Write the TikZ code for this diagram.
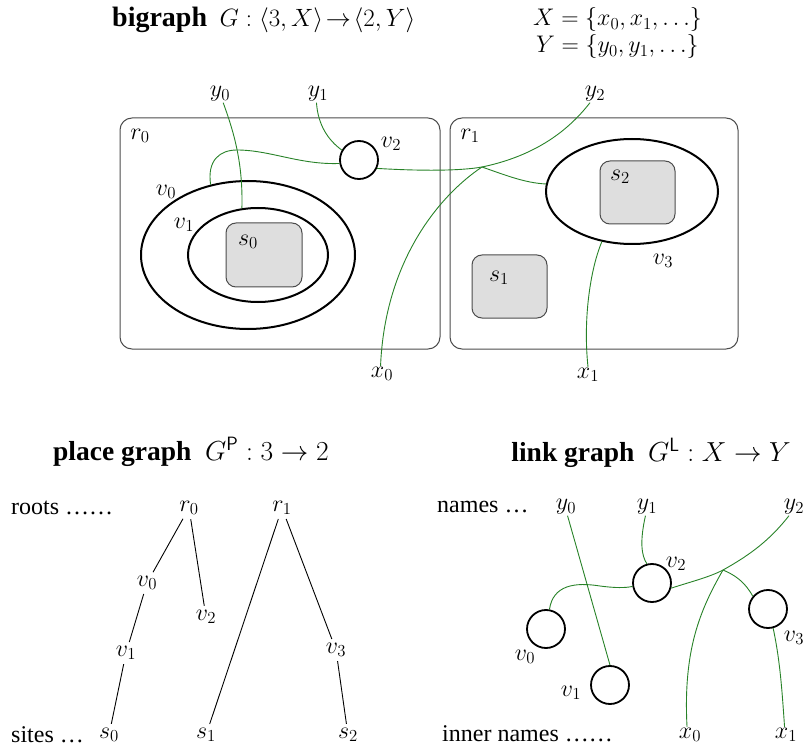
\RequirePackage{fix-cm}
\documentclass[tikz,border=0pt]{standalone}
\usepackage[no-math]{fontspec}
\setmainfont{Liberation Serif}
\usetikzlibrary{shapes.geometric}
\definecolor{linkgreen}{RGB}{40,130,40}
\begin{document}
\begin{tikzpicture}[x=1pt,y=-1pt,
 lbl/.style={font=\fontsize{24}{28}\selectfont, inner sep=1pt},
 ttl/.style={font=\fontsize{27.5}{32}\selectfont, inner sep=1pt},
 region/.style={draw=black!70, line width=1pt, rounded corners=12pt},
 sitebox/.style={draw=black!70, fill=black!13, line width=1pt, rounded corners=10pt},
 nodeell/.style={ellipse, draw, line width=2pt, inner sep=0pt},
 ctrl/.style={circle, draw, line width=1.8pt, minimum size=38pt, inner sep=0pt},
 link/.style={draw=linkgreen, line width=0.9pt},
 tree/.style={line width=0.9pt, shorten <=3pt, shorten >=3pt},
]
\useasboundingbox (0,0) rectangle (807,749);

% ---------- titles ----------
\node[inner sep=1pt, anchor=west, font=\fontsize{25}{30}\selectfont] (tbig) at (111,20)
  {{\fontsize{28}{32}\selectfont\bfseries bigraph}\ \ $G:\langle 3,X\rangle\!\to\!\langle 2,Y\rangle$};
\node[lbl, anchor=west] (tX) at (532,20) {$X=\{x_0,x_1,\ldots\}$};
\node[lbl, anchor=west] (tY) at (535,47) {$Y=\{y_0,y_1,\ldots\}$};

% ---------- bigraph ----------
\node[region, minimum width=320pt, minimum height=231pt] (r0box) at (280,233.5) {};
\node[region, minimum width=288pt, minimum height=231pt] (r1box) at (594,233.5) {};
\node[lbl] (r0) at (140,136) {$r_0$};
\node[lbl] (r1) at (470,136) {$r_1$};

\node[nodeell, minimum width=214pt, minimum height=148pt] (v0e) at (248,255) {};
\node[nodeell, minimum width=140pt, minimum height=94pt] (v1e) at (258,255) {};
\node[sitebox, minimum width=76pt, minimum height=64pt] (s0box) at (264,255) {};
\node[lbl] (s0) at (248,242) {$s_0$};
\node[lbl] (v0l) at (166,192) {$v_0$};
\node[lbl] (v1l) at (184,225) {$v_1$};

\node[ctrl] (v2) at (359,160) {};
\node[lbl] (v2l) at (391,144) {$v_2$};

\node[nodeell, minimum width=172pt, minimum height=105pt] (v3e) at (632,191.5) {};
\node[sitebox, minimum width=75pt, minimum height=63pt] (s2box) at (637.5,192.5) {};
\node[lbl] (s2) at (620,177) {$s_2$};
\node[lbl] (v3l) at (663,261) {$v_3$};
\node[sitebox, minimum width=75pt, minimum height=63pt] (s1box) at (509.5,286.5) {};
\node[lbl] (s1) at (499,278) {$s_1$};

\node[lbl] (y0) at (220,94) {$y_0$};
\node[lbl] (y1) at (318,94) {$y_1$};
\node[lbl] (y2) at (595,94) {$y_2$};
\node[lbl] (x0) at (382,374) {$x_0$};
\node[lbl] (x1) at (588,375) {$x_1$};
\coordinate (J) at (482,167);

\draw[link] (y0.-70) .. controls (235,135) and (243,165) .. (v1e.109);
\draw[link] (y1.-100) .. controls (318,125) and (328,140) .. (v2.150);
\draw[link] (v0e.118) .. controls (207,160) and (220,150) .. (237,150)
  .. controls (270,150) and (300,165) .. (v2.190);
\draw[link] (v2.-25) .. controls (420,171) and (460,171) .. (J)
  .. controls (530,157) and (565,135) .. (y2.-120);
\draw[link] (J) .. controls (440,195) and (385,260) .. (x0.100);
\draw[link] (J) .. controls (505,175) and (525,183) .. (v3e.175);
\draw[link] (v3e.-121) .. controls (590,270) and (583,320) .. (x1.north);

% ---------- place graph ----------
\node[ttl, anchor=west] (tplace) at (52,452) {{\bfseries place graph}\ \ $G^{\mathsf{P}}:3\to 2$};
\node[lbl, anchor=west] (roots) at (10,508) {roots \dots\dots};
\node[lbl, anchor=west] (sites) at (10,735) {sites \dots};
\node[lbl] (pr0) at (189,508) {$r_0$};
\node[lbl] (pr1) at (282,508) {$r_1$};
\node[lbl] (pv0) at (147,583) {$v_0$};
\node[lbl] (pv2) at (206,617) {$v_2$};
\node[lbl] (pv1) at (126,653) {$v_1$};
\node[lbl] (pv3) at (336,650) {$v_3$};
\node[lbl] (ps0) at (109,735) {$s_0$};
\node[lbl] (ps1) at (206,735) {$s_1$};
\node[lbl] (ps2) at (348,735) {$s_2$};
\draw[tree] (pr0) -- (pv0);
\draw[tree] (pr0) -- (pv2);
\draw[tree] (pv0) -- (pv1);
\draw[tree] (pv1) -- (ps0);
\draw[tree] (pr1) -- (ps1);
\draw[tree] (pr1) -- (pv3);
\draw[tree] (pv3) -- (ps2);

% ---------- link graph ----------
\node[ttl, anchor=east] (tlink) at (792,453) {{\bfseries link graph}\ \ $G^{\mathsf{L}}:X\to Y$};
\node[lbl, anchor=west] (names) at (436,507) {names \dots};
\node[lbl, anchor=west] (inames) at (441,734) {inner names \dots\dots};
\node[lbl] (ly0) at (566,507) {$y_0$};
\node[lbl] (ly1) at (647,507) {$y_1$};
\node[lbl] (ly2) at (794,507) {$y_2$};
\node[lbl] (lx0) at (690,735) {$x_0$};
\node[lbl] (lx1) at (786,735) {$x_1$};
\node[ctrl] (lv2) at (652,583) {};
\node[ctrl] (lv0) at (546,629) {};
\node[ctrl] (lv1) at (610,685) {};
\node[ctrl] (lv3) at (768,609) {};
\node[lbl] (lv2l) at (676,564) {$v_2$};
\node[lbl] (lv0l) at (525,657) {$v_0$};
\node[lbl] (lv1l) at (571,693) {$v_1$};
\node[lbl] (lv3l) at (794,638) {$v_3$};
\coordinate (JL) at (723,570);

\draw[link] (ly0.-80) -- (lv1.north);
\draw[link] (ly1.-100) .. controls (640,540) and (641,555) .. (lv2.105);
\draw[link] (lv0.80) .. controls (553,585) and (575,582) .. (600,586)
  .. controls (615,588) and (625,588) .. (lv2.190);
\draw[link] (lv2.-15) .. controls (690,582) and (710,577) .. (JL)
  .. controls (750,555) and (770,540) .. (ly2.-120);
\draw[link] (JL) .. controls (700,610) and (683,650) .. (lx0.110);
\draw[link] (JL) .. controls (735,575) and (745,582) .. (lv3.140);
\draw[link] (lv3.-75) .. controls (780,660) and (782,690) .. (lx1.100);
\end{tikzpicture}
\end{document}
